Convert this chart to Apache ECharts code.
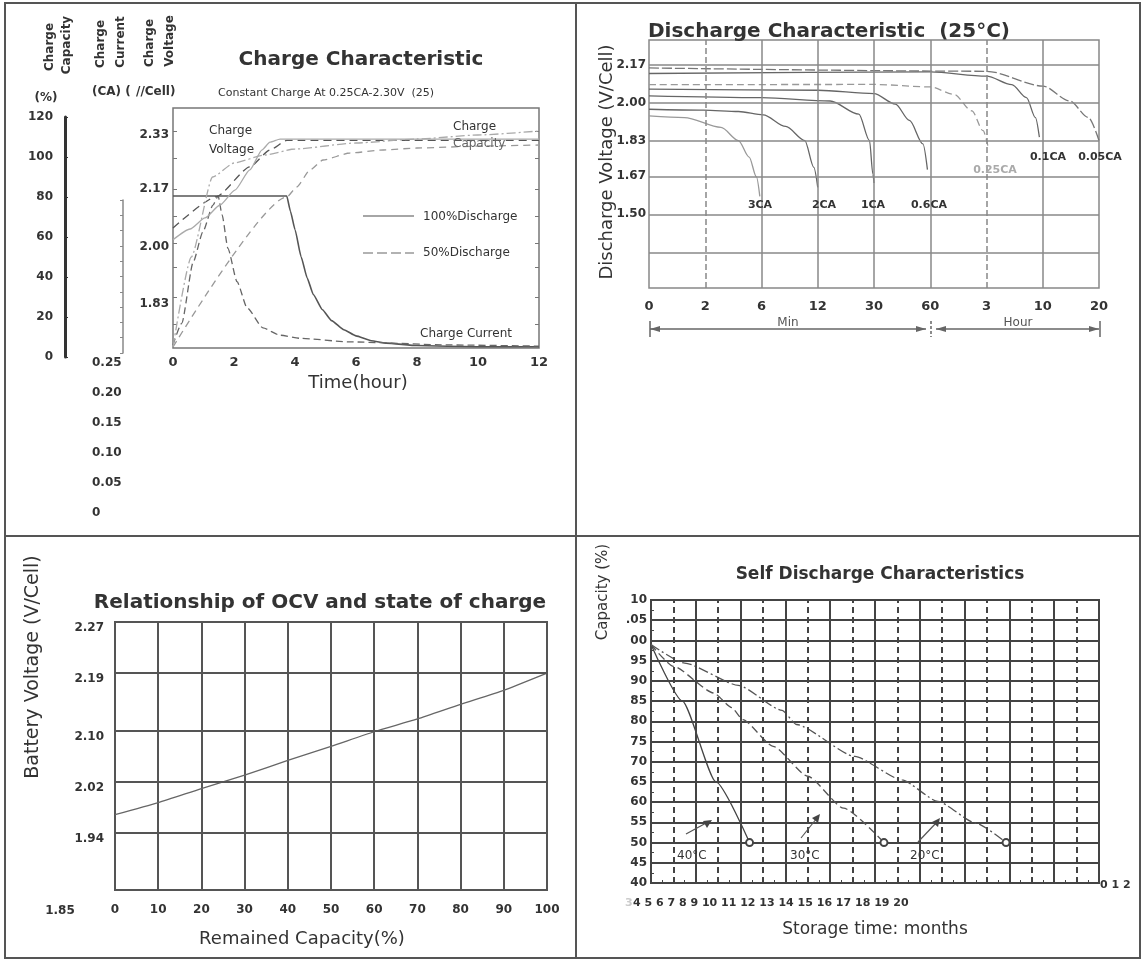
<!DOCTYPE html>
<html><head><meta charset="utf-8">
<script src="https://cdn.jsdelivr.net/npm/echarts/dist/echarts.min.js"></script>
<style>html,body{margin:0;padding:0;background:#fff}#c{width:1144px;height:963px}</style>
</head><body><div id="c"></div>
<script>
// ---------- Charge characteristic (top-left) ----------
const chargeVoltageTicks = [1.83, 2.00, 2.17, 2.33];
const chargeVoltageMinorTicks = [1.77, 1.85, 1.94, 2.01, 2.09, 2.17, 2.26, 2.34];
const chargeCurrent100 = [[0,0.25],[3.73,0.25],[3.85,0.225],[4.0,0.195],[4.2,0.15],[4.4,0.115],[4.6,0.088],[4.9,0.063],[5.2,0.045],[5.6,0.03],[6.0,0.02],[6.5,0.012],[7,0.008],[8,0.004],[10,0.002],[12,0.002]];
const chargeCurrent50 = [[0,0.005],[0.29,0.041],[0.66,0.141],[0.98,0.191],[1.31,0.235],[1.48,0.25],[1.61,0.219],[1.8,0.164],[2.1,0.109],[2.43,0.066],[2.95,0.033],[3.51,0.021],[4.16,0.016],[5.8,0.01],[9.1,0.005],[12,0.003]];
const chargeVoltage100 = [[0,2.055],[1.43,2.148],[2.52,2.236],[3.18,2.286],[3.73,2.314],[12,2.314]];
const chargeVoltage50 = [[0,2.02],[0.56,2.052],[1.05,2.085],[1.54,2.123],[2.03,2.167],[2.52,2.227],[2.92,2.286],[3.18,2.309],[3.51,2.318],[12,2.318]];
const chargeCapacity100 = [[0,5],[3.73,80],[4.06,85],[4.49,93.5],[4.92,98.5],[5.8,102],[6.9,103.5],[8,104.5],[10.2,105.5],[12,106]];
const chargeCapacity50 = [[0,5],[0.6,50],[1.3,90],[2,97],[3,101],[4,104],[6,107],[8,109],[10,111],[12,113]];

// ---------- Discharge characteristic (top-right) ----------
const dischargeTimeLabels = ['0','2','6','12','30','60','3','10','20'];
const dischargeVoltageTicks = [1.50, 1.67, 1.83, 2.00, 2.17];
const dischargeGridVoltages = [1.33, 1.50, 1.67, 1.83, 2.00, 2.17];
const dischargeRates = ['3CA','2CA','1CA','0.6CA','0.25CA','0.1CA','0.05CA'];
const dis3CA = [[0,1.94],[0.63,1.933],[1.28,1.889],[1.59,1.83],[1.78,1.756],[1.91,1.667],[1.97,1.58]];
const dis2CA = [[0,1.97],[0.97,1.966],[1.59,1.96],[2.03,1.945],[2.43,1.893],[2.77,1.83],[2.93,1.71],[3.0,1.62]];
const dis1CA = [[0,2.03],[2,2.022],[3.22,2.007],[3.73,1.948],[3.92,1.83],[3.98,1.68],[4.0,1.64]];
const dis06CA = [[0,2.06],[3,2.055],[4,2.04],[4.38,1.993],[4.63,1.92],[4.87,1.815],[4.95,1.70]];
const dis025CA = [[0,2.08],[4,2.081],[5,2.07],[5.42,2.037],[5.74,1.963],[5.94,1.874],[6.03,1.80]];
const dis01CA = [[0,2.13],[5,2.137],[6,2.118],[6.45,2.08],[6.71,2.022],[6.87,1.933],[6.94,1.845]];
const dis005CA = [[0,2.155],[6,2.14],[7,2.074],[7.48,2.007],[7.81,1.933],[8,1.83]];

// ---------- OCV vs state of charge (bottom-left) ----------
const remainedCapacity = [0,10,20,30,40,50,60,70,80,90,100];
const ocvVoltage = [1.968,1.987,2.009,2.03,2.053,2.075,2.098,2.118,2.141,2.163,2.19];
const ocvVoltageTicks = [1.94, 2.02, 2.10, 2.19, 2.27];

// ---------- Self discharge (bottom-right) ----------
const storageMonths = ['0','1','2','3','4','5','6','7','8','9','10','11','12','13','14','15','16','17','18','19','20'];
const capacityTicks = [40,45,50,55,60,65,70,75,80,85,90,95,100,105,110];
const capacityTickLabels = ['40','45','50','55','60','65','70','75','80','85','90','95','00','.05','10'];
const selfDis40 = [[0,99],[1.4,85],[2.9,65],[4.4,50]];
const selfDis30 = [[0,99],[1,93.6],[2.8,87],[3.6,83.4],[4.1,80.4],[5.45,73.8],[7,66.4],[8.6,58.5],[10.4,50]];
const selfDis20 = [[0,99],[1.5,94.4],[3.9,88.9],[5.85,82.7],[6.5,79.2],[9.1,71.3],[11.2,65.5],[12.8,60.2],[14.5,54.8],[15.85,50]];
const tempLabels = ['40°C','30°C','20°C'];

// ---------------------------------------------------------
const FONT = "'DejaVu Sans', Verdana, sans-serif";
const chart = echarts.init(document.getElementById('c'));

function ln(name, data, xi, yi, color, width, type, extra) {
  return Object.assign({
    type: 'line', name, data, xAxisIndex: xi, yAxisIndex: yi,
    symbol: 'none', showSymbol: false, smooth: 0.3, smoothMonotone: 'x',
    lineStyle: { color, width, type }, silent: true, animation: false, z: 3
  }, extra || {});
}
function T(text, x, y, font, opt) {
  opt = opt || {};
  return { type: 'text', x, y, rotation: opt.rot || 0, z: 50, silent: true,
    style: { text, font: font + ' ' + FONT, fill: opt.fill || '#333',
      align: opt.align || 'left', verticalAlign: opt.va || 'middle' } };
}
function L(x1, y1, x2, y2, color, w, dash) {
  return { type: 'line', z: 50, silent: true, shape: { x1, y1, x2, y2 },
    style: { stroke: color || '#555', lineWidth: w || 1.5, lineDash: dash || null } };
}
function P(points, color) {
  return { type: 'polygon', z: 50, silent: true, shape: { points }, style: { fill: color || '#555' } };
}
const hidden = { show: false };
const lbl12 = { fontFamily: FONT, fontWeight: 'bold', fontSize: 12, color: '#333' };

const lastIdx = arr => arr.length - 1;
function endCircle(arr) {
  return (v, p) => (p.dataIndex === lastIdx(arr) ? 7 : 0);
}

const option = {
  backgroundColor: '#fff',
  animation: false,
  grid: [
    { left: 173, top: 108, width: 366, height: 240, show: true, borderColor: '#777', borderWidth: 1.5 }, // 0 TL main
    { left: 65, top: 117, width: 10, height: 240 },   // 1 capacity axis
    { left: 123, top: 200, width: 10, height: 153 },  // 2 current axis line
    { left: 130, top: 363, width: 10, height: 150 },  // 3 current labels
    { left: 649, top: 40, width: 450, height: 248, show: true, borderColor: '#888', borderWidth: 1.5 }, // 4 TR
    { left: 115, top: 622, width: 432, height: 268, show: true, borderColor: '#555', borderWidth: 2 }, // 5 BL
    { left: 651, top: 600, width: 448, height: 283, show: true, borderColor: '#444', borderWidth: 2 }  // 6 BR
  ],
  xAxis: [
    { gridIndex: 0, type: 'value', min: 0, max: 12, interval: 2, axisLine: hidden, axisTick: hidden, splitLine: hidden,
      axisLabel: Object.assign({ margin: 8 }, lbl12, { fontSize: 13 }) },
    { gridIndex: 1, type: 'value', show: false },
    { gridIndex: 2, type: 'value', show: false },
    { gridIndex: 3, type: 'value', show: false },
    { gridIndex: 4, type: 'value', min: 0, max: 8, interval: 1, axisLine: hidden, axisTick: hidden, splitLine: hidden,
      axisLabel: Object.assign({ margin: 12, formatter: v => dischargeTimeLabels[v] }, lbl12, { fontSize: 13 }) },
    { gridIndex: 5, type: 'value', min: 0, max: 100, interval: 10, axisLine: hidden, axisTick: hidden,
      splitLine: { show: true, lineStyle: { color: '#555', width: 2 } },
      axisLabel: Object.assign({ margin: 14 }, lbl12) },
    { gridIndex: 6, type: 'value', min: 0, max: 20, interval: 1, axisLine: hidden,
      axisTick: { show: true, inside: true, length: 4, lineStyle: { color: '#444' } },
      minorTick: { show: true, splitNumber: 2, length: 3, lineStyle: { color: '#444' } },
      splitLine: hidden, axisLabel: hidden }
  ],
  yAxis: [
    { gridIndex: 0, type: 'value', min: 1.70, max: 2.41, axisLine: hidden, splitLine: hidden,
      axisTick: { show: true, inside: true, length: 4, customValues: chargeVoltageMinorTicks, lineStyle: { color: '#777' } },
      axisLabel: Object.assign({ margin: 4, customValues: chargeVoltageTicks, formatter: v => v.toFixed(2) }, lbl12) },
    { gridIndex: 0, type: 'value', min: 0, max: 0.3947, show: false },
    { gridIndex: 0, type: 'value', min: 4.5, max: 124.5, show: false },
    { gridIndex: 0, type: 'value', position: 'right', min: 1.70, max: 2.41, axisLine: hidden, splitLine: hidden, axisLabel: hidden,
      axisTick: { show: true, inside: true, length: 4, customValues: chargeVoltageMinorTicks, lineStyle: { color: '#777' } } },
    { gridIndex: 1, type: 'value', min: 0, max: 120, interval: 20, splitLine: hidden,
      axisLine: { show: true, lineStyle: { color: '#333', width: 3 } },
      axisTick: { show: true, inside: true, length: 3, lineStyle: { color: '#333' } },
      axisLabel: Object.assign({ margin: 12 }, lbl12) },
    { gridIndex: 2, type: 'value', min: 0, max: 0.25, interval: 0.025, splitLine: hidden, axisLabel: hidden,
      axisLine: { show: true, lineStyle: { color: '#888', width: 1.5 } },
      axisTick: { show: true, length: 3, lineStyle: { color: '#888' } } },
    { gridIndex: 3, type: 'value', min: 0, max: 0.25, interval: 0.05, splitLine: hidden, axisLine: hidden, axisTick: hidden,
      axisLabel: Object.assign({ margin: 38, align: 'left', formatter: v => (v === 0 ? '0' : v.toFixed(2)) }, lbl12) },
    { gridIndex: 4, type: 'value', min: 1.17, max: 2.28, axisLine: hidden, axisTick: hidden, splitLine: hidden,
      axisLabel: Object.assign({ margin: 3, customValues: dischargeVoltageTicks, formatter: v => v.toFixed(2) }, lbl12) },
    { gridIndex: 5, type: 'value', min: 1.85, max: 2.27, axisLine: hidden, axisTick: hidden, splitLine: hidden,
      axisLabel: Object.assign({ margin: 11, verticalAlign: 'top', customValues: ocvVoltageTicks, formatter: v => v.toFixed(2) }, lbl12) },
    { gridIndex: 6, type: 'value', min: 40, max: 110, interval: 5, axisLine: hidden,
      axisTick: { show: true, inside: true, length: 4, lineStyle: { color: '#444' } },
      minorTick: { show: true, splitNumber: 2, length: 3, lineStyle: { color: '#444' } },
      splitLine: { show: true, lineStyle: { color: '#444', width: 2 } },
      axisLabel: Object.assign({ margin: 4, formatter: v => capacityTickLabels[capacityTicks.indexOf(v)] }, lbl12) }
  ],
  series: [
    // top-left
    ln('Charge Current (100%Discharge)', chargeCurrent100, 0, 1, '#555', 1.6, 'solid', { smooth: 0.15 }),
    ln('Charge Current (50%Discharge)', chargeCurrent50, 0, 1, '#666', 1.3, [7, 4], { smooth: 0.2 }),
    ln('Charge Voltage (100%Discharge)', chargeVoltage100, 0, 0, '#555', 1.3, [8, 5], { smooth: 0.2 }),
    ln('Charge Voltage (50%Discharge)', chargeVoltage50, 0, 0, '#aaa', 1.3, 'solid', { smooth: 0.2 }),
    ln('Charge Capacity (100%Discharge)', chargeCapacity100, 0, 2, '#999', 1.3, [7, 5], { smooth: 0.2 }),
    ln('Charge Capacity (50%Discharge)', chargeCapacity50, 0, 2, '#aaa', 1.3, [9, 3, 2, 3], { smooth: 0.2 }),
    // top-right
    ln(dischargeRates[0], dis3CA, 4, 7, '#999', 1.3, 'solid', {
      markLine: { silent: true, symbol: ['none', 'none'], label: { show: false }, animation: false,
        lineStyle: { color: '#888', width: 1.5, type: 'solid' },
        data: dischargeGridVoltages.map(v => ({ yAxis: v })).concat(
          [1, 2, 3, 4, 5, 6, 7].map(i => ({ xAxis: i, lineStyle: { color: '#888', width: 1.5, type: (i === 1 || i === 6) ? [6, 3] : 'solid' } }))) } }),
    ln(dischargeRates[1], dis2CA, 4, 7, '#666', 1.3, 'solid'),
    ln(dischargeRates[2], dis1CA, 4, 7, '#666', 1.3, 'solid'),
    ln(dischargeRates[3], dis06CA, 4, 7, '#666', 1.3, 'solid'),
    ln(dischargeRates[4], dis025CA, 4, 7, '#999', 1.3, [7, 4]),
    ln(dischargeRates[5], dis01CA, 4, 7, '#666', 1.3, 'solid'),
    ln(dischargeRates[6], dis005CA, 4, 7, '#777', 1.3, [10, 3]),
    // bottom-left
    { type: 'line', name: 'OCV', data: remainedCapacity.map((c, i) => [c, ocvVoltage[i]]), xAxisIndex: 5, yAxisIndex: 8,
      symbol: 'none', smooth: 0.2, lineStyle: { color: '#666', width: 1.3 }, silent: true, z: 3,
      markLine: { silent: true, symbol: ['none', 'none'], label: { show: false },
        lineStyle: { color: '#555', width: 2, type: 'solid' }, data: ocvVoltageTicks.slice(0, 4).map(v => ({ yAxis: v })) } },
    // bottom-right
    ln(tempLabels[0], selfDis40, 6, 9, '#444', 1.3, 'solid', { smooth: 0.2, showSymbol: true, symbol: 'emptyCircle', symbolSize: endCircle(selfDis40), itemStyle: { color: '#444', borderWidth: 1 },
      markLine: { silent: true, symbol: ['none', 'none'], label: { show: false },
        data: storageMonths.slice(1, 20).map((m, i) => ({ xAxis: i + 1, lineStyle: { color: '#444', width: 2, type: (i % 2 === 0) ? [6, 4] : 'solid' } })) } }),
    ln(tempLabels[1], selfDis30, 6, 9, '#555', 1.3, [8, 4], { smooth: 0.2, showSymbol: true, symbol: 'emptyCircle', symbolSize: endCircle(selfDis30), itemStyle: { color: '#444', borderWidth: 1 } }),
    ln(tempLabels[2], selfDis20, 6, 9, '#555', 1.3, [10, 3, 2, 3], { smooth: 0.2, showSymbol: true, symbol: 'emptyCircle', symbolSize: endCircle(selfDis20), itemStyle: { color: '#444', borderWidth: 1 } })
  ],
  graphic: [
    // frame
    { type: 'rect', z: 40, silent: true, shape: { x: 5, y: 3, width: 1135, height: 955 }, style: { fill: 'none', stroke: '#555', lineWidth: 2 } },
    L(576, 3, 576, 958, '#555', 2),
    L(5, 536, 1140, 536, '#555', 2),

    // ---- top-left ----
    T('Charge', 50, 47, 'bold 12px', { rot: Math.PI / 2, align: 'center' }),
    T('Capacity', 67, 45, 'bold 12px', { rot: Math.PI / 2, align: 'center' }),
    T('Charge', 101, 44, 'bold 12px', { rot: Math.PI / 2, align: 'center' }),
    T('Current', 121, 42, 'bold 12px', { rot: Math.PI / 2, align: 'center' }),
    T('Charge', 150, 43, 'bold 12px', { rot: Math.PI / 2, align: 'center' }),
    T('Voltage', 170, 41, 'bold 12px', { rot: Math.PI / 2, align: 'center' }),
    T('(%)', 46, 98, 'bold 12px', { align: 'center' }),
    T('(CA) (', 92, 92, 'bold 12px'),
    T('//Cell)', 136, 92, 'bold 12px'),
    T('Charge Characteristic', 361, 60, 'bold 20px', { align: 'center' }),
    T('Constant Charge At 0.25CA-2.30V  (25)', 218, 93, '11px'),
    T('Charge', 209, 131, '12px'),
    T('Voltage', 209, 150, '12px'),
    T('Charge', 453, 127, '12px'),
    T('Capacity', 453, 144, '12px', { fill: '#666' }),
    L(363, 216, 414, 216, '#888', 1.5),
    T('100%Discharge', 423, 217, '12px'),
    L(363, 253, 414, 253, '#999', 1.5, [10, 4]),
    T('50%Discharge', 423, 253, '12px'),
    T('Charge Current', 420, 334, '12px'),
    T('Time(hour)', 358, 383, '18px', { align: 'center' }),

    // ---- top-right ----
    T('Discharge Characteristic  (25°C)', 829, 32, 'bold 20px', { align: 'center' }),
    T('Discharge Voltage (V/Cell)', 607, 162, '18px', { rot: Math.PI / 2, align: 'center' }),
    T(dischargeRates[0], 760, 205, 'bold 11px', { align: 'center' }),
    T(dischargeRates[1], 824, 205, 'bold 11px', { align: 'center' }),
    T(dischargeRates[2], 873, 205, 'bold 11px', { align: 'center' }),
    T(dischargeRates[3], 929, 205, 'bold 11px', { align: 'center' }),
    T(dischargeRates[4], 995, 170, 'bold 11px', { align: 'center', fill: '#aaa' }),
    T(dischargeRates[5], 1048, 157, 'bold 11px', { align: 'center' }),
    T(dischargeRates[6], 1100, 157, 'bold 11px', { align: 'center' }),
    L(650, 329, 926, 329, '#666', 1.5),
    L(650, 321, 650, 337, '#666', 1.5),
    P([[650, 329], [660, 326], [660, 332]], '#666'),
    P([[926, 329], [916, 326], [916, 332]], '#666'),
    L(931, 321, 931, 337, '#666', 1.5, [3, 2]),
    L(936, 329, 1099, 329, '#666', 1.5),
    P([[936, 329], [946, 326], [946, 332]], '#666'),
    P([[1099, 329], [1089, 326], [1089, 332]], '#666'),
    L(1100, 321, 1100, 337, '#666', 1.5),
    { type: 'rect', z: 49, silent: true, shape: { x: 772, y: 317, width: 32, height: 10 }, style: { fill: '#fff' } },
    T('Min', 788, 323, '12px', { align: 'center', fill: '#555' }),
    { type: 'rect', z: 49, silent: true, shape: { x: 999, y: 317, width: 38, height: 10 }, style: { fill: '#fff' } },
    T('Hour', 1018, 323, '12px', { align: 'center', fill: '#555' }),

    // ---- bottom-left ----
    T('Relationship of OCV and state of charge', 320, 603, 'bold 20px', { align: 'center' }),
    T('Battery Voltage (V/Cell)', 33, 667, '19px', { rot: Math.PI / 2, align: 'center' }),
    T('1.85', 60, 911, 'bold 12px', { align: 'center' }),
    T('Remained Capacity(%)', 302, 939, '18px', { align: 'center' }),

    // ---- bottom-right ----
    T('Self Discharge Characteristics', 880, 575, 'bold 17px', { align: 'center' }),
    T('Capacity (%)', 603, 592, '15px', { rot: Math.PI / 2, align: 'center' }),
    T(tempLabels[0], 677, 856, '12px'),
    T(tempLabels[1], 790, 856, '12px'),
    T(tempLabels[2], 910, 856, '12px'),
    L(686, 834, 708, 822, '#555', 1.2),
    P([[712, 820], [703, 821], [707, 828]], '#444'),
    L(801, 838, 817, 818, '#555', 1.2),
    P([[820, 814], [812, 818], [818, 823]], '#444'),
    L(918, 842, 937, 822, '#555', 1.2),
    P([[940, 818], [932, 822], [938, 827]], '#444'),
    T(storageMonths[3], 625, 903, 'bold 11px', { fill: '#ccc' }),
    T(storageMonths.slice(4).join(' '), 633, 903, 'bold 11px'),
    T(storageMonths.slice(0, 3).join(' '), 1100, 885, 'bold 11px'),
    T('Storage time: months', 875, 930, '17px', { align: 'center' })
  ]
};
chart.setOption(option);
</script></body></html>
